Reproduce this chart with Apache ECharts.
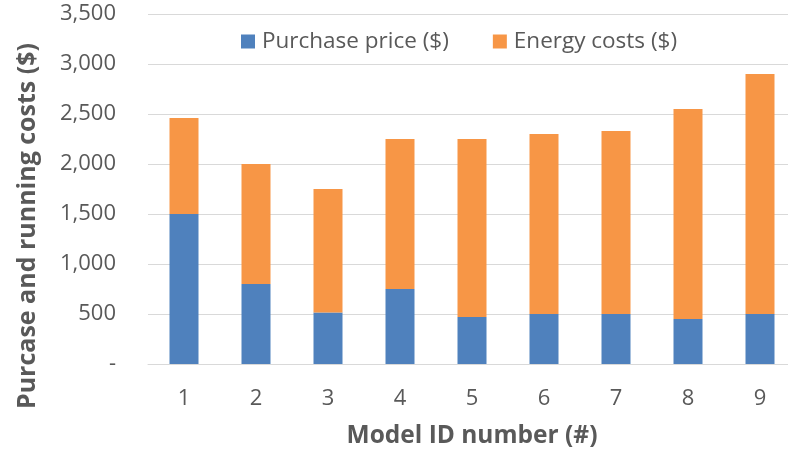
<!DOCTYPE html>
<html>
<head>
<meta charset="utf-8">
<script src="https://cdn.jsdelivr.net/npm/echarts@6/dist/echarts.min.js"></script>
<style>
  html, body { margin: 0; padding: 0; background: #fff; overflow: hidden; }
  /* plot runs a little past the right edge, as in the original */
  #chart { width: 796px; height: 457px; }
</style>
</head>
<body>
<div id="chart"></div>
<script>
// model ids and stacked cost parts
var models = ['1', '2', '3', '4', '5', '6', '7', '8', '9'];
var purchasePrice = [1500, 800, 515, 750, 470, 500, 500, 450, 500];
var energyCosts = [960, 1200, 1235, 1500, 1780, 1800, 1830, 2100, 2400];

var textColor = '#595959';
var font = '"Open Sans", "Noto Sans", sans-serif';

var myChart = echarts.init(document.getElementById('chart'));
var option = {
    animation: false,
    textStyle: { fontFamily: font },
    legend: {
        top: 30,
        left: 241,
        padding: 0,
        itemWidth: 14,
        itemHeight: 14,
        itemGap: 44,
        icon: 'rect',
        textStyle: { color: textColor, fontSize: 22.5, fontFamily: font, padding: [0, 0, 0, 2] },
        data: ['Purchase price ($)', 'Energy costs ($)']
    },
    grid: { left: 148, right: 0, top: 14, bottom: 93 },
    xAxis: {
        type: 'category',
        data: models,
        name: 'Model ID number (#)',
        nameLocation: 'middle',
        nameGap: 60,
        nameTextStyle: { color: textColor, fontSize: 24.5, fontWeight: 'bold', fontFamily: font },
        axisLine: { lineStyle: { color: '#d9d9d9', width: 1 } },
        axisTick: { show: false },
        axisLabel: { color: textColor, fontSize: 22, margin: 24, fontFamily: font }
    },
    yAxis: {
        type: 'value',
        min: 0,
        max: 3500,
        interval: 500,
        name: 'Purcase and running costs ($)',
        nameLocation: 'middle',
        nameRotate: 90,
        nameGap: 108,
        nameTextStyle: {
            color: textColor, fontSize: 25, fontWeight: 'bold', fontFamily: font,
            padding: [0, 74, 0, 0]
        },
        axisLine: { show: false },
        axisTick: { show: false },
        splitLine: { lineStyle: { color: '#d9d9d9', width: 1 } },
        axisLabel: {
            color: textColor, fontSize: 22, margin: 32, fontFamily: font,
            formatter: function (v) { return v === 0 ? '-' : v.toLocaleString('en-US'); }
        }
    },
    series: [
        {
            name: 'Purchase price ($)',
            type: 'bar',
            stack: 'cost',
            barWidth: 29,
            itemStyle: { color: '#4f81bd' },
            data: purchasePrice
        },
        {
            name: 'Energy costs ($)',
            type: 'bar',
            stack: 'cost',
            barWidth: 29,
            itemStyle: { color: '#f79646' },
            data: energyCosts
        }
    ]
};
myChart.setOption(option);
</script>
</body>
</html>
